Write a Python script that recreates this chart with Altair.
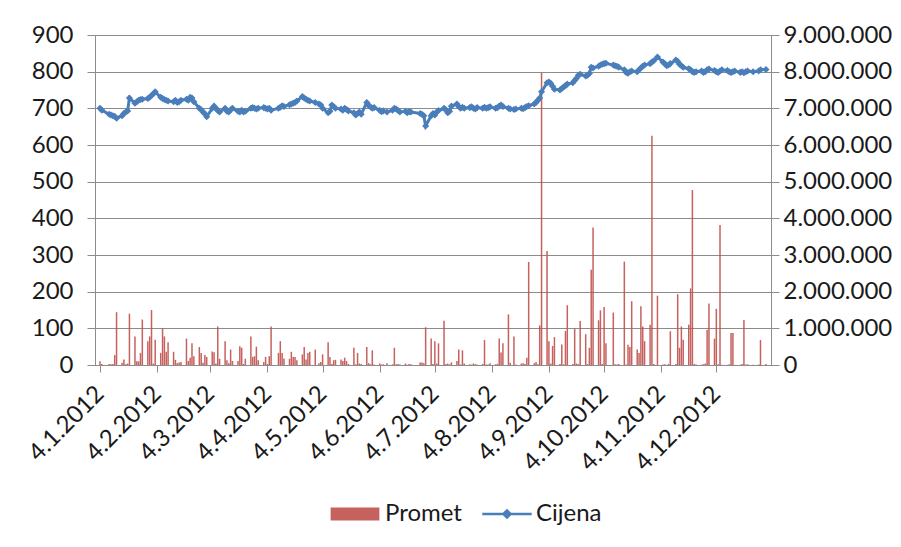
import altair as alt
import pandas as pd
from datetime import date

# ---- trading days per month (day of month) ----
DAYS_01 = [4, 5, 9, 10, 11, 12, 13, 16, 17, 18, 19, 20, 23, 24, 25, 26, 27, 30, 31]
DAYS_02 = [1, 2, 3, 6, 7, 8, 9, 10, 13, 14, 15, 16, 17, 20, 21, 22, 23, 24, 27, 28, 29]
DAYS_03 = [1, 2, 5, 6, 7, 8, 9, 12, 13, 14, 15, 16, 19, 20, 21, 22, 23, 26, 27, 28, 29, 30]
DAYS_04 = [2, 3, 4, 5, 6, 10, 11, 12, 13, 16, 17, 18, 19, 20, 23, 24, 25, 26, 27, 30]
DAYS_05 = [2, 3, 4, 7, 8, 9, 10, 11, 14, 15, 16, 17, 18, 21, 22, 23, 24, 25, 28, 29, 30, 31]
DAYS_06 = [1, 4, 5, 6, 8, 11, 12, 13, 14, 15, 18, 19, 20, 21, 26, 27, 28, 29]
DAYS_07 = [2, 3, 4, 5, 6, 9, 10, 11, 12, 13, 16, 17, 18, 19, 20, 23, 24, 25, 26, 27, 30, 31]
DAYS_08 = [1, 2, 3, 6, 7, 8, 9, 10, 13, 14, 16, 17, 20, 21, 22, 23, 24, 27, 28, 29, 30, 31]
DAYS_09 = [3, 4, 5, 6, 7, 10, 11, 12, 13, 14, 17, 18, 19, 20, 21, 24, 25, 26, 27, 28]
DAYS_10 = [1, 2, 3, 4, 5, 9, 10, 11, 12, 15, 16, 17, 18, 19, 22, 23, 24, 25, 26, 29, 30, 31]
DAYS_11 = [2, 5, 6, 7, 8, 9, 12, 13, 14, 15, 16, 19, 20, 21, 22, 23, 26, 27, 28, 29, 30]
DAYS_12 = [3, 4, 5, 6, 7, 10, 11, 12, 13, 14, 17, 18, 19, 20, 21, 24, 27, 28, 31]

# ---- Cijena (price, left axis) ----
CIJENA_01 = [700, 695, 684, 682, 680, 678, 673, 680, 686, 690, 693, 728, 714, 718, 722, 724, 725, 727, 730]
CIJENA_02 = [735, 740, 745, 730, 727, 724, 722, 720, 718, 722, 716, 718, 722, 725, 722, 730, 728, 718, 700, 696, 690]
CIJENA_03 = [685, 677, 700, 706, 700, 694, 690, 700, 692, 690, 696, 700, 692, 690, 695, 690, 692, 700, 702, 700, 698, 700]
CIJENA_04 = [702, 700, 698, 700, 695, 700, 703, 707, 705, 710, 712, 714, 716, 720, 732, 728, 725, 722, 720, 716]
CIJENA_05 = [712, 709, 700, 688, 692, 709, 705, 700, 698, 695, 700, 697, 693, 688, 682, 686, 690, 684, 716, 708, 704, 700]
CIJENA_06 = [702, 695, 691, 693, 690, 695, 700, 698, 694, 690, 692, 688, 691, 690, 686, 684, 680, 652]
CIJENA_07 = [680, 686, 682, 690, 694, 700, 696, 688, 692, 706, 712, 705, 700, 703, 700, 702, 704, 700, 698, 702, 700, 703]
CIJENA_08 = [700, 702, 704, 700, 702, 706, 709, 705, 700, 698, 697, 698, 700, 699, 702, 705, 707, 712, 716, 722, 728, 745]
CIJENA_09 = [770, 772, 768, 760, 752, 750, 754, 758, 762, 766, 770, 776, 782, 790, 793, 788, 790, 795, 812, 810]
CIJENA_10 = [815, 818, 820, 822, 823, 818, 816, 815, 812, 805, 798, 796, 800, 802, 800, 805, 810, 815, 818, 822, 826, 830]
CIJENA_11 = [840, 826, 822, 816, 818, 822, 832, 828, 820, 816, 812, 808, 805, 800, 798, 800, 802, 798, 800, 805, 807]
CIJENA_12 = [803, 800, 798, 802, 805, 803, 800, 798, 800, 802, 798, 800, 797, 800, 802, 800, 802, 805, 806]

# ---- Promet (turnover, right axis), in thousands ----
PROMET_01 = [100, 30, 30, 20, 30, 270, 1440, 60, 150, 20, 40, 1400, 780, 100, 100, 330, 1240, 650, 780]
PROMET_02 = [1500, 40, 690, 330, 1000, 780, 360, 620, 360, 140, 50, 70, 80, 720, 110, 200, 590, 240, 490, 330, 60]
PROMET_03 = [270, 220, 370, 350, 40, 1050, 170, 650, 130, 50, 420, 110, 110, 510, 470, 30, 170, 780, 220, 240, 500, 130]
PROMET_04 = [80, 220, 30, 240, 1050, 330, 650, 330, 180, 170, 360, 220, 220, 130, 290, 490, 150, 330, 360, 420]
PROMET_05 = [50, 80, 290, 620, 220, 30, 130, 140, 150, 110, 200, 110, 30, 470, 20, 330, 40, 30, 490, 50, 20, 400]
PROMET_06 = [15, 40, 15, 20, 50, 20, 470, 20, 30, 15, 40, 10, 25, 20, 70, 70, 50, 1030]
PROMET_07 = [720, 30, 650, 40, 590, 1210, 30, 40, 20, 70, 110, 420, 15, 400, 40, 20, 10, 40, 20, 15, 30, 680]
PROMET_08 = [15, 15, 50, 20, 30, 720, 340, 590, 1380, 60, 780, 15, 40, 50, 30, 200, 2810, 50, 80, 20, 1080, 7970]
PROMET_09 = [3110, 650, 40, 520, 760, 30, 560, 20, 930, 1630, 30, 990, 40, 25, 1200, 840, 25, 470, 2600, 3750]
PROMET_10 = [1220, 1490, 30, 1580, 590, 1430, 20, 15, 30, 2820, 15, 550, 490, 1740, 420, 330, 1600, 1050, 650, 1100, 6250, 30]
PROMET_11 = [1890, 15, 20, 5, 30, 920, 30, 1930, 470, 1050, 690, 1100, 2090, 4770, 30, 15, 10, 20, 40, 960, 1680]
PROMET_12 = [720, 1530, 20, 3820, 10, 5, 20, 870, 870, 5, 10, 30, 1230, 15, 20, 10, 15, 680, 30]

TICK_LABELS = ["4.1.2012", "4.2.2012", "4.3.2012", "4.4.2012", "4.5.2012", "4.6.2012",
               "4.7.2012", "4.8.2012", "4.9.2012", "4.10.2012", "4.11.2012", "4.12.2012"]
LEFT_TICKS = [0, 100, 200, 300, 400, 500, 600, 700, 800, 900]
RIGHT_TICKS = [0, 1000000, 2000000, 3000000, 4000000, 5000000, 6000000, 7000000, 8000000, 9000000]

DAYS = [DAYS_01, DAYS_02, DAYS_03, DAYS_04, DAYS_05, DAYS_06, DAYS_07, DAYS_08, DAYS_09, DAYS_10, DAYS_11, DAYS_12]
CIJENA = [CIJENA_01, CIJENA_02, CIJENA_03, CIJENA_04, CIJENA_05, CIJENA_06, CIJENA_07, CIJENA_08, CIJENA_09, CIJENA_10, CIJENA_11, CIJENA_12]
PROMET = [PROMET_01, PROMET_02, PROMET_03, PROMET_04, PROMET_05, PROMET_06, PROMET_07, PROMET_08, PROMET_09, PROMET_10, PROMET_11, PROMET_12]

START = date(2012, 1, 4)
END = date(2012, 12, 31)
rows = []
for m in range(12):
    for d, c, p in zip(DAYS[m], CIJENA[m], PROMET[m]):
        dt = date(2012, m + 1, d)
        rows.append({"t": (dt - START).days, "cijena": c, "promet": p * 1000,
                     "s1": "Promet", "s2": "Cijena"})
df = pd.DataFrame(rows)

tick_offs = [(date(2012, m, 4) - START).days for m in range(1, 13)]
label_expr = ("[" + ",".join("'" + s + "'" for s in TICK_LABELS) + "][indexof(["
              + ",".join(str(v) for v in tick_offs) + "], datum.value)]")

RED = "#C0504D"
BLUE = "#4A7EBB"
GRID = "#8C8C8C"
FONT = "Lato"
FS = 24
TXT = "#1a1a1a"

x_enc = alt.X("t:Q", title=None,
              scale=alt.Scale(domain=[0, (END - START).days], nice=False, zero=False),
              axis=alt.Axis(values=tick_offs, labelExpr=label_expr, labelAngle=-45,
                            labelAlign="right", labelBaseline="middle", labelPadding=18,
                            labelFont=FONT, labelFontSize=FS, labelColor=TXT,
                            domainColor=GRID, tickColor=GRID, tickSize=7, grid=False,
                            labelOverlap=False, labelBound=False, labelFlush=False))

y_price = alt.Y("cijena:Q", title=None,
                scale=alt.Scale(domain=[0, 900], nice=False),
                axis=alt.Axis(orient="left", values=LEFT_TICKS, grid=True, gridColor=GRID,
                              domainColor=GRID, tickColor=GRID, tickSize=8, labelPadding=14,
                              labelFont=FONT, labelFontSize=FS, labelColor=TXT))

y_promet = alt.Y("promet:Q", title=None,
                 scale=alt.Scale(domain=[0, 9000000], nice=False),
                 axis=alt.Axis(orient="right", values=RIGHT_TICKS, grid=False,
                               labelExpr="datum.value == 0 ? '0' : format(datum.value / 1000000, 'd') + '.000.000'",
                               domainColor=GRID, tickColor=GRID, tickSize=8, labelPadding=4,
                               labelFont=FONT, labelFontSize=FS, labelColor=TXT))

base = alt.Chart(df)

bars = base.mark_bar(width=1.5, opacity=0.9).encode(
    x=x_enc, y=y_promet,
    color=alt.Color("s1:N", scale=alt.Scale(domain=["Promet"], range=[RED]),
                    legend=alt.Legend(title=None, orient="none", legendX=248, legendY=467,
                                      symbolType="M-3.75,-1L3.75,-1L3.75,1L-3.75,1Z",
                                      symbolSize=169, symbolStrokeWidth=0, labelOffset=18,
                                      labelFont=FONT, labelFontSize=FS, labelColor=TXT,
                                      padding=0)))

line = base.mark_line(strokeWidth=3).encode(
    x=x_enc, y=y_price,
    stroke=alt.Stroke("s2:N", scale=alt.Scale(domain=["Cijena"], range=[BLUE]),
                      legend=alt.Legend(title=None, orient="none", legendX=400, legendY=467,
                                        symbolType="M-3.8,0L3.8,0M-0.55,0L0,-0.55L0.55,0L0,0.55Z",
                                        symbolSize=169, symbolStrokeWidth=2.5,
                                        symbolFillColor=BLUE, labelOffset=17,
                                        labelFont=FONT, labelFontSize=FS, labelColor=TXT,
                                        padding=0)))

points = base.mark_point(shape="diamond", filled=True, size=50, opacity=1, color=BLUE).encode(
    x=x_enc, y=y_price)

chart = alt.layer(bars, alt.layer(line, points)).resolve_scale(
    y="independent", color="independent", stroke="independent"
).properties(
    width=676, height=330,
    autosize=alt.AutoSizeParams(type="none"),
    padding={"left": 87, "top": 27, "right": 122, "bottom": 170},
    background="white",
).configure_view(stroke="transparent")

chart.save("out.html", embed_options={"renderer": "svg", "actions": False})
